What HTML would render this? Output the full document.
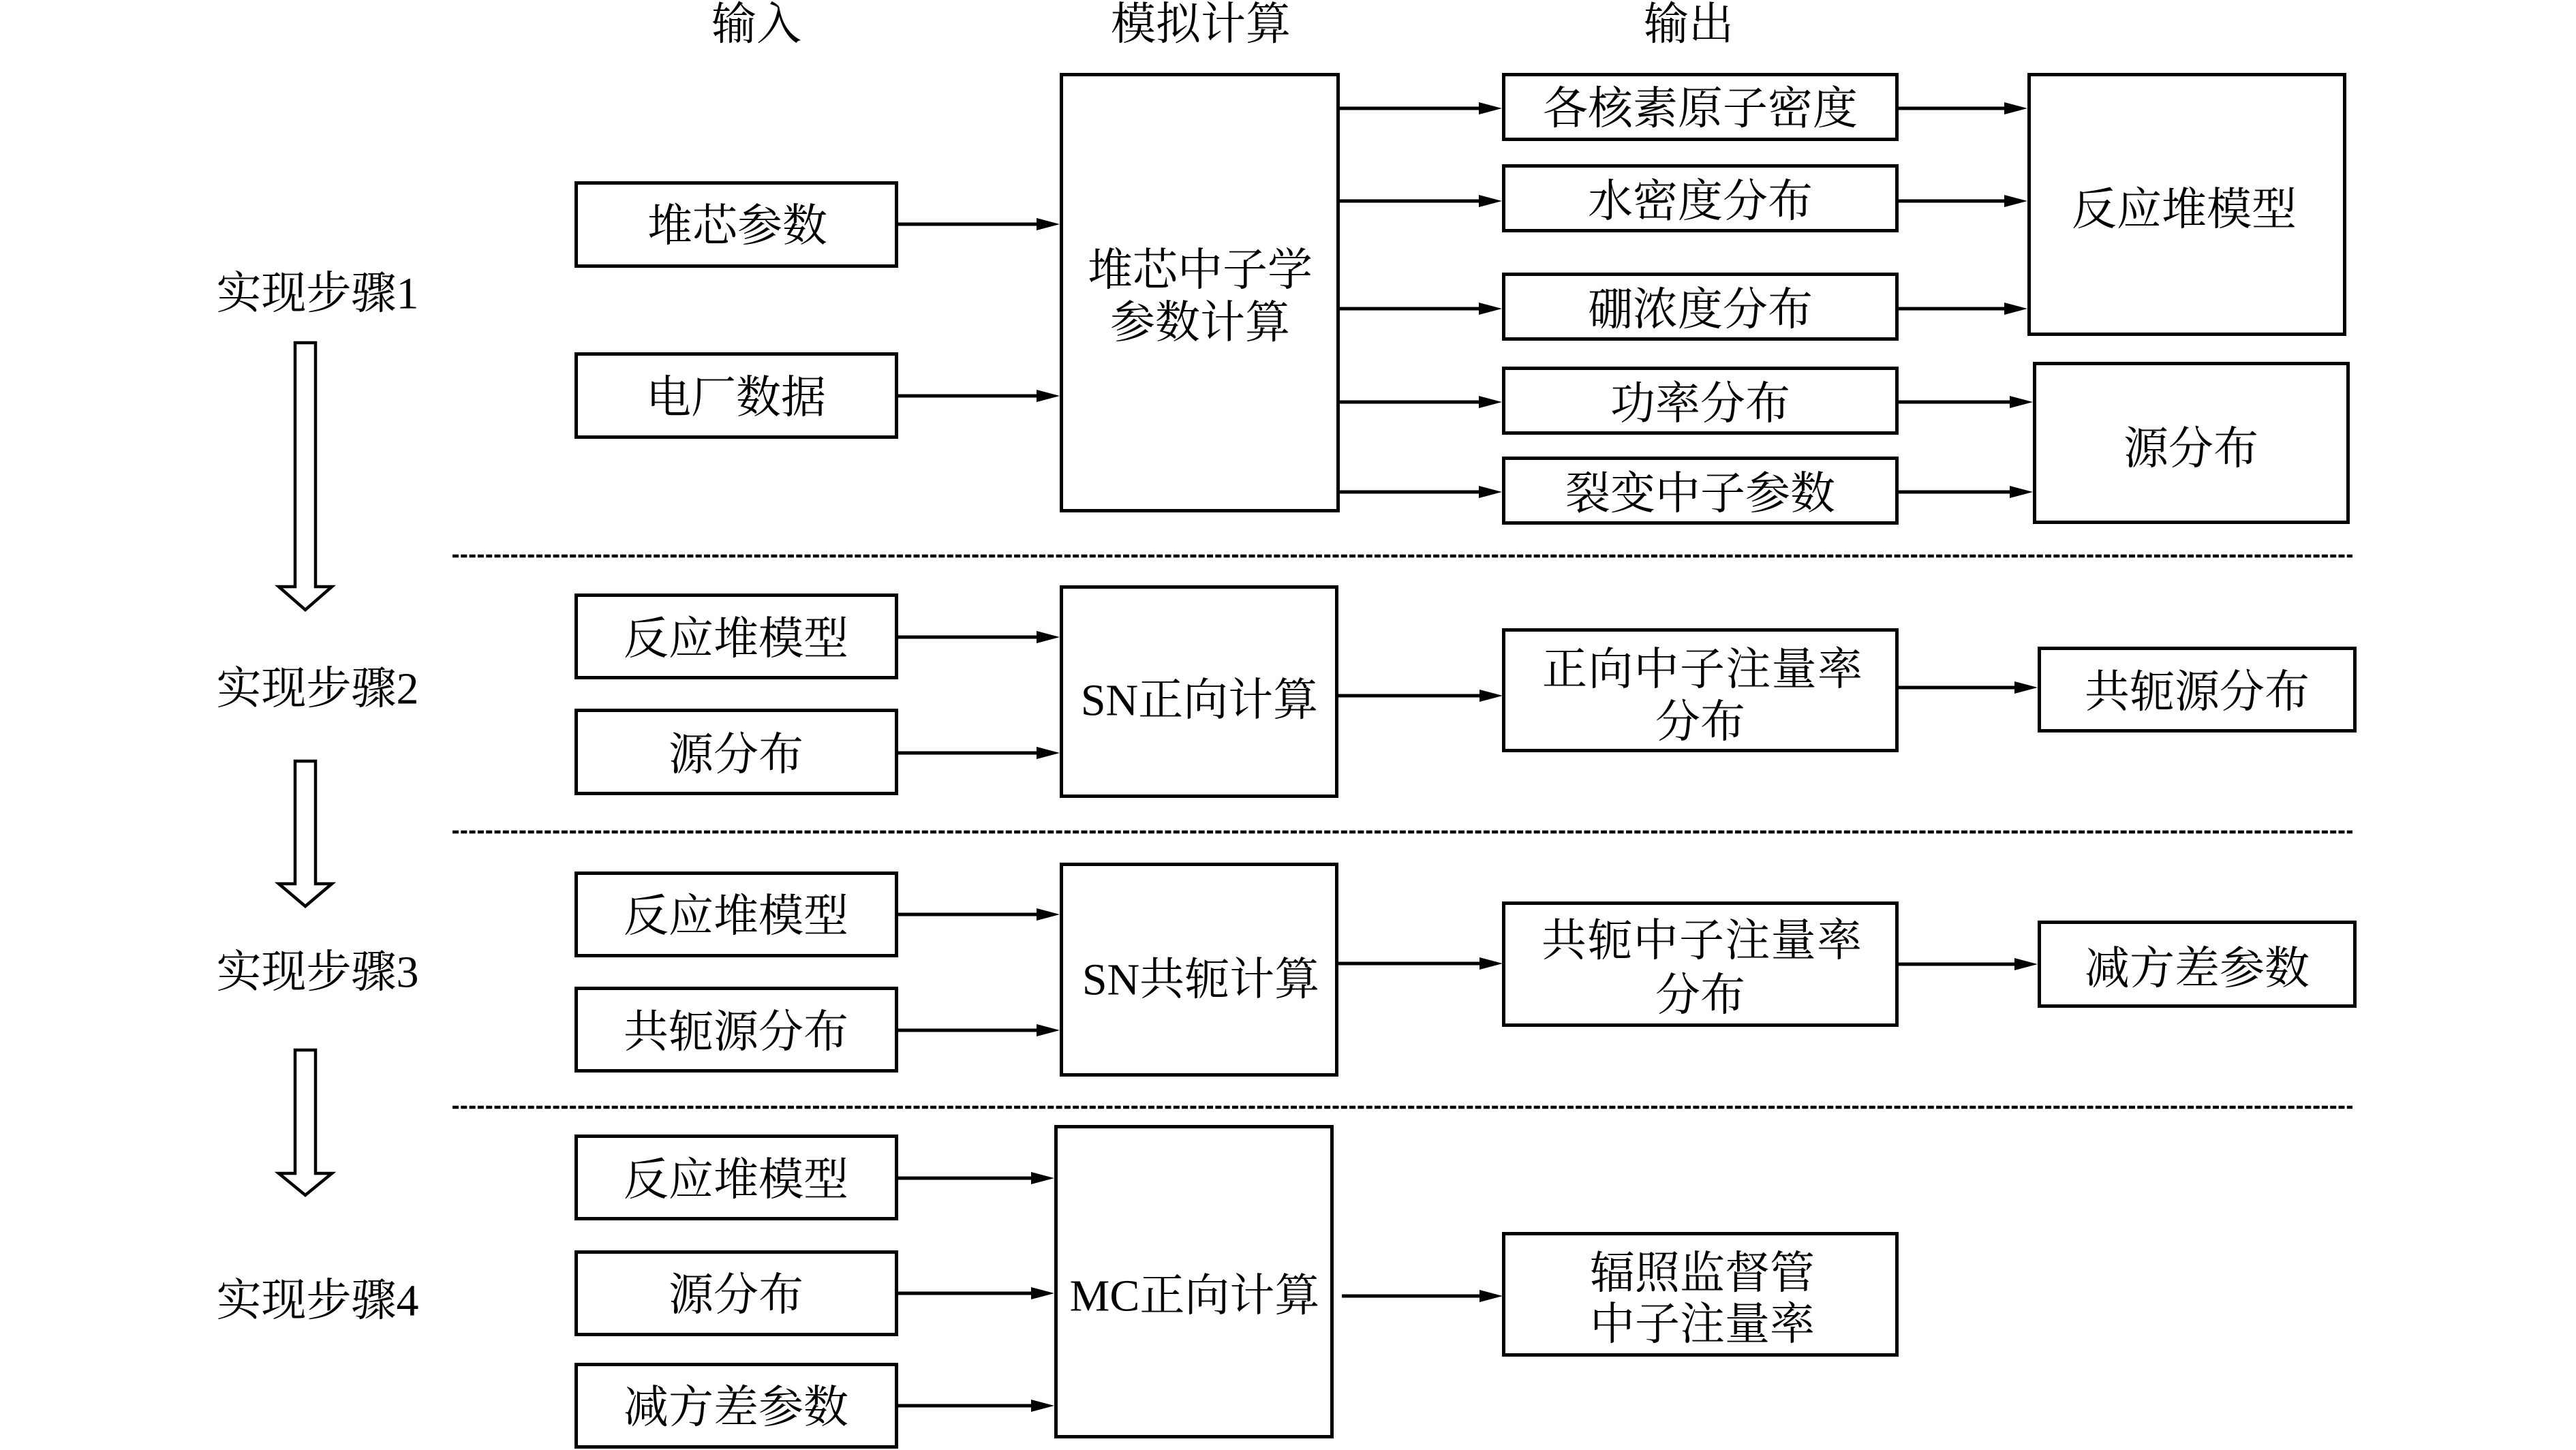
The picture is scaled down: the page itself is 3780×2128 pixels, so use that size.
<!DOCTYPE html>
<html>
<head>
<meta charset="utf-8">
<style>
  html, body { margin:0; padding:0; background:#fff; }
  body { width:3780px; height:2128px; overflow:hidden; }
  svg { display:block; }
  text { font-family:"Liberation Serif","Noto Serif CJK SC","Noto Sans CJK SC",serif; font-size:66px; fill:#000; }
</style>
</head>
<body>
<svg width="3780" height="2128" viewBox="0 0 3780 2128" xmlns="http://www.w3.org/2000/svg">
  <rect x="0" y="0" width="3780" height="2128" fill="#fff"/>

  <!-- headers -->
  <g text-anchor="middle" dominant-baseline="central" transform="translate(0,3)">
    <text x="1110" y="33">输入</text>
    <text x="1762" y="33">模拟计算</text>
    <text x="2478" y="33">输出</text>
  </g>

  <!-- step labels -->
  <g text-anchor="middle" dominant-baseline="central" transform="translate(0,3)">
    <text x="466" y="428">实现步骤1</text>
    <text x="466" y="1008">实现步骤2</text>
    <text x="466" y="1424">实现步骤3</text>
    <text x="466" y="1906">实现步骤4</text>
  </g>

  <!-- hollow arrows -->
  <g fill="#fff" stroke="#000" stroke-width="4.5" stroke-linejoin="miter">
    <polygon points="433,503 463,503 463,861 487,861 448,895 409,861 433,861"/>
    <polygon points="433,1117 463,1117 463,1297 487,1297 448,1330 409,1297 433,1297"/>
    <polygon points="433,1541 463,1541 463,1722 487,1722 448,1754 409,1722 433,1722"/>
  </g>

  <!-- dotted separators -->
  <g stroke="#000" stroke-width="4.5" stroke-dasharray="9 3.3">
    <line x1="664" y1="816" x2="3452" y2="816"/>
    <line x1="664" y1="1221" x2="3452" y2="1221"/>
    <line x1="664" y1="1625" x2="3452" y2="1625"/>
  </g>

  <!-- boxes -->
  <g fill="#fff" stroke="#000" stroke-width="5">
    <!-- inputs -->
    <rect x="845.5" y="268.5" width="470" height="122"/>
    <rect x="845.5" y="519.5" width="470" height="122"/>
    <rect x="845.5" y="873.5" width="470" height="121"/>
    <rect x="845.5" y="1042.5" width="470" height="122"/>
    <rect x="845.5" y="1281.5" width="470" height="121"/>
    <rect x="845.5" y="1450.5" width="470" height="121"/>
    <rect x="845.5" y="1667.5" width="470" height="121"/>
    <rect x="845.5" y="1837.5" width="470" height="121"/>
    <rect x="845.5" y="2002.5" width="470" height="121"/>
    <!-- central -->
    <rect x="1557.5" y="109.5" width="406" height="640"/>
    <rect x="1557.5" y="861.5" width="404" height="307"/>
    <rect x="1557.5" y="1268.5" width="404" height="309"/>
    <rect x="1549.5" y="1653.5" width="405" height="455"/>
    <!-- outputs -->
    <rect x="2206.5" y="109.5" width="577" height="95"/>
    <rect x="2206.5" y="243.5" width="577" height="95"/>
    <rect x="2206.5" y="402.5" width="577" height="95"/>
    <rect x="2206.5" y="540.5" width="577" height="95"/>
    <rect x="2206.5" y="672.5" width="577" height="95"/>
    <rect x="2206.5" y="924.5" width="577" height="177"/>
    <rect x="2206.5" y="1325.5" width="577" height="179"/>
    <rect x="2206.5" y="1810.5" width="577" height="178"/>
    <!-- right -->
    <rect x="2977.5" y="109.5" width="463" height="381"/>
    <rect x="2985.5" y="533.5" width="460" height="233"/>
    <rect x="2992.5" y="951.5" width="463" height="121"/>
    <rect x="2992.5" y="1353.5" width="463" height="123"/>
  </g>

  <!-- arrow lines -->
  <g stroke="#000" stroke-width="5">
    <line x1="1318" y1="329" x2="1525" y2="329"/>
    <line x1="1318" y1="581" x2="1525" y2="581"/>
    <line x1="1318" y1="935" x2="1525" y2="935"/>
    <line x1="1318" y1="1105" x2="1525" y2="1105"/>
    <line x1="1318" y1="1342" x2="1525" y2="1342"/>
    <line x1="1318" y1="1512" x2="1525" y2="1512"/>
    <line x1="1318" y1="1729" x2="1517" y2="1729"/>
    <line x1="1318" y1="1898" x2="1517" y2="1898"/>
    <line x1="1318" y1="2063" x2="1517" y2="2063"/>

    <line x1="1966" y1="159" x2="2174" y2="159"/>
    <line x1="1966" y1="295" x2="2174" y2="295"/>
    <line x1="1966" y1="453" x2="2174" y2="453"/>
    <line x1="1966" y1="590" x2="2174" y2="590"/>
    <line x1="1966" y1="722" x2="2174" y2="722"/>

    <line x1="2786" y1="159" x2="2945" y2="159"/>
    <line x1="2786" y1="295" x2="2945" y2="295"/>
    <line x1="2786" y1="453" x2="2945" y2="453"/>
    <line x1="2786" y1="590" x2="2953" y2="590"/>
    <line x1="2786" y1="722" x2="2953" y2="722"/>

    <line x1="1964" y1="1021" x2="2175" y2="1021"/>
    <line x1="2786" y1="1009" x2="2960" y2="1009"/>
    <line x1="1964" y1="1414" x2="2175" y2="1414"/>
    <line x1="2786" y1="1415" x2="2960" y2="1415"/>
    <line x1="1969" y1="1902" x2="2175" y2="1902"/>
  </g>

  <!-- arrowheads -->
  <g fill="#000">
    <polygon points="1555,329 1521,320 1521,338"/>
    <polygon points="1555,581 1521,572 1521,590"/>
    <polygon points="1555,935 1521,926 1521,944"/>
    <polygon points="1555,1105 1521,1096 1521,1114"/>
    <polygon points="1555,1342 1521,1333 1521,1351"/>
    <polygon points="1555,1512 1521,1503 1521,1521"/>
    <polygon points="1547,1729 1513,1720 1513,1738"/>
    <polygon points="1547,1898 1513,1889 1513,1907"/>
    <polygon points="1547,2063 1513,2054 1513,2072"/>

    <polygon points="2204,159 2170,150 2170,168"/>
    <polygon points="2204,295 2170,286 2170,304"/>
    <polygon points="2204,453 2170,444 2170,462"/>
    <polygon points="2204,590 2170,581 2170,599"/>
    <polygon points="2204,722 2170,713 2170,731"/>

    <polygon points="2975,159 2941,150 2941,168"/>
    <polygon points="2975,295 2941,286 2941,304"/>
    <polygon points="2975,453 2941,444 2941,462"/>
    <polygon points="2983,590 2949,581 2949,599"/>
    <polygon points="2983,722 2949,713 2949,731"/>

    <polygon points="2205,1021 2171,1012 2171,1030"/>
    <polygon points="2990,1009 2956,1000 2956,1018"/>
    <polygon points="2205,1414 2171,1405 2171,1423"/>
    <polygon points="2990,1415 2956,1406 2956,1424"/>
    <polygon points="2205,1902 2171,1893 2171,1911"/>
  </g>

  <!-- box texts -->
  <g text-anchor="middle" dominant-baseline="central" transform="translate(0,3)">
    <!-- inputs -->
    <text x="1082" y="329">堆芯参数</text>
    <text x="1080" y="581">电厂数据</text>
    <text x="1080" y="935">反应堆模型</text>
    <text x="1080" y="1105">源分布</text>
    <text x="1080" y="1342">反应堆模型</text>
    <text x="1080" y="1512">共轭源分布</text>
    <text x="1080" y="1729">反应堆模型</text>
    <text x="1080" y="1898">源分布</text>
    <text x="1080" y="2063">减方差参数</text>

    <!-- central -->
    <text x="1761" y="394">堆芯中子学</text>
    <text x="1761" y="471">参数计算</text>
    <text x="1760" y="1025">SN正向计算</text>
    <text x="1762" y="1435">SN共轭计算</text>
    <text x="1753" y="1899">MC正向计算</text>

    <!-- outputs -->
    <text x="2495" y="157">各核素原子密度</text>
    <text x="2495" y="293">水密度分布</text>
    <text x="2495" y="452">硼浓度分布</text>
    <text x="2495" y="590">功率分布</text>
    <text x="2495" y="722">裂变中子参数</text>
    <text x="2498" y="980" textLength="470" lengthAdjust="spacing">正向中子注量率</text>
    <text x="2495" y="1057">分布</text>
    <text x="2497" y="1378" textLength="470" lengthAdjust="spacing">共轭中子注量率</text>
    <text x="2495" y="1458">分布</text>
    <text x="2498" y="1866">辐照监督管</text>
    <text x="2498" y="1941">中子注量率</text>

    <!-- right -->
    <text x="3205" y="305">反应堆模型</text>
    <text x="3215" y="656">源分布</text>
    <text x="3224" y="1013">共轭源分布</text>
    <text x="3224" y="1419">减方差参数</text>
  </g>
</svg>
</body>
</html>
